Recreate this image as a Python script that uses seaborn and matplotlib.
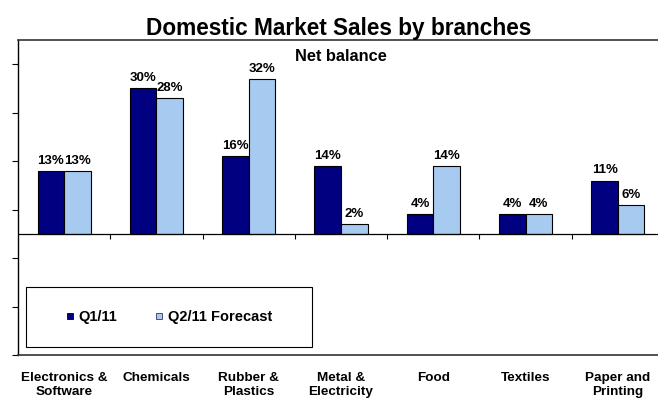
import numpy as np
import pandas as pd
import matplotlib
matplotlib.use("Agg")
import matplotlib.pyplot as plt
from matplotlib.lines import Line2D
from matplotlib.patches import Rectangle
import seaborn as sns

# Data
branches = ["Electronics &\nSoftware", "Chemicals", "Rubber &\nPlastics",
            "Metal &\nElectricity", "Food", "Textiles", "Paper and\nPrinting"]
series_names = ["Q1/11", "Q2/11 Forecast"]
q1_values = [13, 30, 16, 14, 4, 4, 11]
q2_values = [13, 28, 32, 2, 14, 4, 6]
y_ticks = [-25, -15, -5, 5, 15, 25, 35]

NAVY = "#000080"
LIGHT = "#A6CAF0"

sns.set_style("white")
plt.rcParams["font.family"] = ["Liberation Sans", "DejaVu Sans"]
plt.rcParams["text.color"] = "black"
plt.rcParams["xtick.color"] = "black"
plt.rcParams["ytick.color"] = "black"

df = pd.DataFrame({
    "branch": branches * 2,
    "series": [series_names[0]] * len(branches) + [series_names[1]] * len(branches),
    "value": q1_values + q2_values,
})

fig = plt.figure(figsize=(6.58, 3.98), dpi=100)
ax = fig.add_axes([18 / 658, 1 - 355 / 398, 646 / 658, 315 / 398])

sns.barplot(data=df, x="branch", y="value", hue="series", order=branches,
            hue_order=series_names, palette=[NAVY, LIGHT], saturation=1,
            width=0.575, edgecolor="black", linewidth=0.8, legend=False,
            ax=ax, zorder=2)

ax.set_ylim(-25, 40)
ax.set_xlim(-0.5, len(branches) - 0.5)

# value labels above bars
for container in ax.containers:
    ax.bar_label(container, labels=[f"{v:.0f}%" for v in container.datavalues],
                 padding=3, fontsize=9.5, fontweight="bold", color="black")

# category axis along zero with tick marks between groups
ax.axhline(0, color="black", lw=0.9, zorder=3)
ax.vlines(np.arange(len(branches) - 1) + 0.5, 0, -1.05, color="black", lw=0.8,
          zorder=3, clip_on=False)

ax.set_xticks(range(len(branches)))
ax.set_xticklabels(branches, fontsize=9.7, fontweight="bold", color="black",
                   linespacing=1.3)
ax.tick_params(axis="x", length=0, pad=12)
ax.set_xlabel("")
ax.set_ylabel("")

ax.set_yticks(y_ticks)
ax.set_yticklabels([])
ax.tick_params(axis="y", left=True, length=4, width=0.8, direction="out", color="black")

for side in ["top", "bottom", "right"]:
    ax.spines[side].set_color("#333333")
    ax.spines[side].set_linewidth(1.2)
ax.spines["left"].set_color("black")
ax.spines["left"].set_linewidth(1.0)

# legend box
ax.add_patch(Rectangle((0.0119, 0.0244), 0.4427, 0.1924, transform=ax.transAxes,
                       facecolor="white", edgecolor="black", lw=0.8, zorder=4))
handles = [
    Line2D([], [], marker="s", ls="none", markersize=4.5, markerfacecolor=NAVY,
           markeredgecolor="black", markeredgewidth=0.6),
    Line2D([], [], marker="s", ls="none", markersize=4.5, markerfacecolor=LIGHT,
           markeredgecolor="#333366", markeredgewidth=0.6),
]
leg = ax.legend(handles, series_names, ncol=2, frameon=False, loc="center",
                bbox_to_anchor=(0.2333, 0.1206), prop={"size": 10.5, "weight": "bold"},
                handlelength=0.6, handletextpad=0.3, columnspacing=2.6,
                borderaxespad=0)
leg.set_zorder(5)
for t in leg.get_texts():
    t.set_color("black")

ax.text(0.5, 0.933, "Net balance", transform=ax.transAxes, ha="center",
        va="baseline", fontsize=11.8, fontweight="bold", color="black")
fig.text(339 / 658, 1 - 35 / 398, "Domestic Market Sales by branches",
         ha="center", va="baseline", fontsize=16.3, fontweight="bold", color="black")

fig.savefig("out.png", dpi=100)
